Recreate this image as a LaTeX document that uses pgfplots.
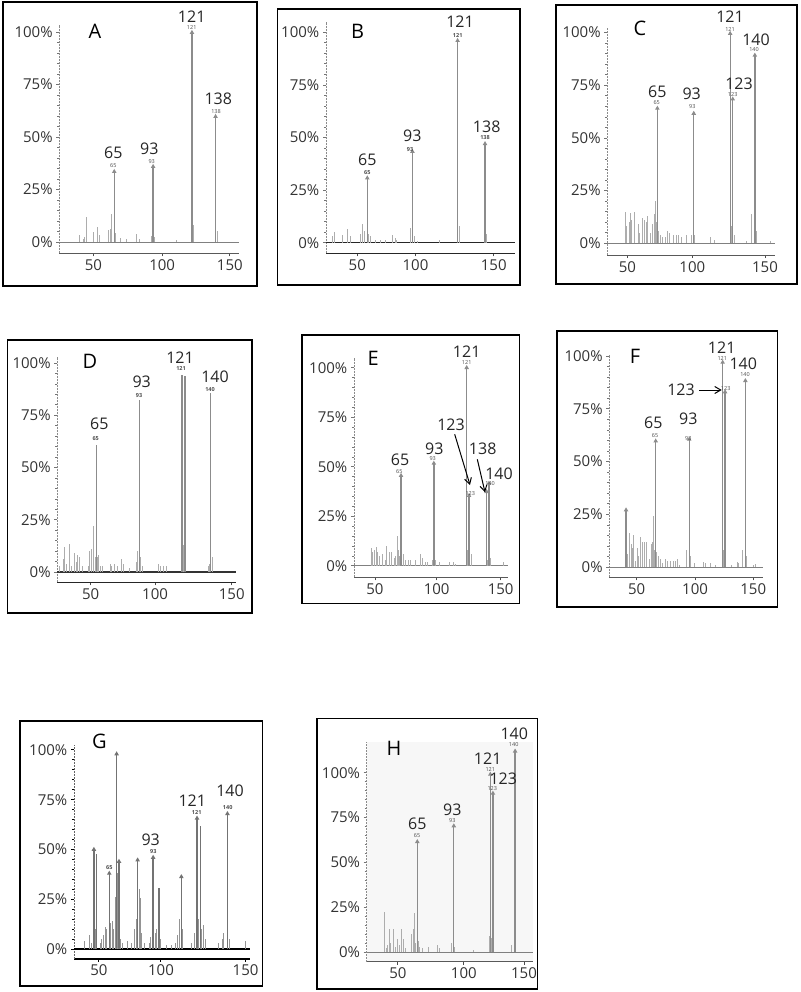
\documentclass[border=0pt]{standalone}
\usepackage{fontspec}
\setmainfont{Open Sans}
\usepackage{pgfplots}
\pgfplotsset{compat=1.18}
\usetikzlibrary{arrows.meta}

\newcommand\tickfont{\fontsize{15}{17}\selectfont}
\newcommand\labfont{\fontsize{16}{18}\selectfont}
\newcommand\letfont{\fontsize{20}{24}\selectfont}
\newcommand\smfont{\fontsize{5.5}{6}\selectfont}
% labels placed in picture pixels (1px = 1pt, y downwards)
\newcommand\lab[3]{\node[font=\labfont,text=black!85,inner sep=0pt] at (#1pt,-#2pt) {#3};}
\newcommand\sml[3]{\node[font=\smfont,text=black!70,inner sep=0pt] at (#1pt,-#2pt) {#3};}
\newcommand\plet[3]{\node[font=\letfont,inner sep=0pt] at (#1pt,-#2pt) {#3};}
\newcommand\panelbox[4]{\draw[line width=1.6pt] (#1pt,-#2pt) rectangle (#3pt,-#4pt);}

\pgfplotsset{
  ms/.style={
    scale only axis, anchor=south west, clip=false,
    axis x line*=bottom, axis y line*=left,
    tick align=outside, xtick pos=bottom, ytick pos=left,
    xmajorticks=true, xminorticks=true,
    major tick length=3pt, minor tick length=2pt,
    minor x tick num=9, minor y tick num=4,
    xticklabels={50,100,150},
    ytick={0,25,50,75,100}, yticklabels={0\%,25\%,50\%,75\%,100\%},
    ticklabel style={font=\tickfont, text=black!80},
    xticklabel style={inner sep=3pt},
    yticklabel style={inner sep=3.5pt},
    x axis line style={black!65, line width=1pt},
    y axis line style={black!45, line width=0.8pt, dash pattern=on 2pt off 1pt},
    tick style={black!55, line width=0.6pt},
    x tick style={black!70, line width=0.8pt},
  },
  minor/.style={ycomb, color=black!32, line width=1pt, mark=none},
  major/.style={ycomb, color=black!45, line width=1.3pt, mark=triangle*, mark size=1.4pt},
  base/.style={black!50, line width=0.8pt, mark=none},
}

\begin{document}
\begin{tikzpicture}
\useasboundingbox (0,0) rectangle (800pt,-992pt);

% ---------------- A
\begin{axis}[ms, at={(59.3pt,-253.3pt)}, width=179.7pt, height=228.3pt,
  xmin=25.4, xmax=154.9, ymin=-5.38, ymax=103.3, xtick={50,99.5,148.3}]
\addplot[base] coordinates {(25.4,0) (154.9,0)};
\addplot[minor] coordinates {(39.8,3.3) (42.5,1.5) (43.4,2.5) (44.9,11.7) (49.7,4.9) (52.6,7.3) (54.4,3.3) (60.9,5.5) (62.1,6) (62.8,13.2) (65.7,4.2) (69.3,2) (73.6,1.5) (80.8,4) (83.2,1.2) (92.1,3) (93.8,2.5) (109.6,1) (122,8) (139.3,5)};
\addplot[major] coordinates {(65,33.5) (93,35.9) (121,99.7) (138,59.7)};
\end{axis}
\panelbox{3}{2}{257}{286}
\plet{95}{31}{A}
\lab{113.3}{152.7}{65} \lab{149.3}{149}{93} \lab{191.7}{16.7}{121} \lab{218.3}{99}{138}
\sml{113.3}{165.7}{65} \sml{151.7}{162}{93} \sml{191.7}{28}{121} \sml{216}{112}{138}

% ---------------- B
\begin{axis}[ms, at={(326pt,-253.3pt)}, width=189pt, height=231.6pt,
  xmin=39.4, xmax=156.6, ymin=-5.04, ymax=105, xtick={58.8,94.9,143.4},
  x axis line style={black!85, line width=1pt}]
\addplot[black!85, line width=1.4pt] coordinates {(39.4,0) (156.6,0)};
\addplot[minor] coordinates {(43.5,3) (44.5,5.2) (49.8,3.5) (52.8,6.3) (54.5,3) (60.5,4) (62.1,8.9) (63.1,5.5) (65.6,4) (66.7,3) (69.8,1.5) (72.9,1.5) (76,1.5) (80.7,3.7) (82.2,2) (83.2,1.5) (92.1,6.8) (94.2,3) (96.3,1) (110,1.5) (121.9,8) (139.1,4)};
\addplot[major] coordinates {(65,30.7) (93,43.3) (121,96) (138,47)};
\end{axis}
\panelbox{277.3}{9.3}{520}{285}
\plet{357.7}{31.7}{B}
\lab{367.3}{160}{65} \lab{412.3}{136}{93} \lab{460}{21.7}{121} \lab{486.7}{126.7}{138}
\sml{367.3}{172.3}{\textbf{65}} \sml{410}{150}{\textbf{93}} \sml{457.7}{36}{\textbf{121}} \sml{485}{137.7}{\textbf{138}}

% ---------------- C
\begin{axis}[ms, at={(607.3pt,-255pt)}, width=167.7pt, height=226.7pt,
  xmin=26.5, xmax=155.5, ymin=-5.55, ymax=102, xtick={41.9,91.9,147.8}]
\addplot[base] coordinates {(26.5,0) (155.5,0)};
\addplot[minor] coordinates {(40.2,15) (41.5,8) (43.5,10) (44.5,14.5) (45.3,11) (47.1,15) (50.4,9) (51.2,5) (53.5,12) (55,11) (56.8,10) (57.6,13) (59.4,5) (61.5,9) (62.5,14) (63.5,20) (64.5,10) (65.8,6) (67.1,4) (69.2,3) (70.9,3) (73,6) (74,5) (77.3,4) (79.4,4) (81.2,4) (83.2,3) (87.1,4) (91.5,4) (93.5,4) (105.5,3) (108.6,1.5) (122.2,8) (124,4) (133.2,1) (137.6,14) (140.9,6) (152.2,1)};
\addplot[major] coordinates {(65,64) (93,61.6) (121,99.5) (123,68.4) (140,89.2)};
\end{axis}
\panelbox{556}{5}{797}{284}
\plet{640}{28.3}{C}
\lab{657.3}{91.7}{65} \lab{691.7}{93.3}{93} \lab{730}{16.7}{121} \lab{739}{84}{123} \lab{756}{39.3}{140}
\sml{656.7}{102.7}{65} \sml{692.3}{106.7}{93} \sml{730}{30}{121} \sml{732.7}{94.7}{123} \sml{754}{50}{140}

% ---------------- D
\begin{axis}[ms, at={(57.3pt,-582.3pt)}, width=178.7pt, height=225.6pt,
  xmin=39.1, xmax=156.6, ymin=-4.93, ymax=103, xtick={61,103.4,153.8},
  x axis line style={black!85, line width=1pt}]
\addplot[black!80, line width=1.2pt] coordinates {(39.1,0) (156.6,0)};
\addplot[minor] coordinates {(40.4,3) (43,6) (44.1,12) (45.3,4) (47,13.5) (48.6,3) (50.1,9) (51.4,5) (52.5,8) (54,7) (55.8,3) (59.5,3) (60.6,10) (61.7,11) (62.8,22) (63.9,7) (65.4,7) (66.1,8) (67.2,3) (68.9,3) (73.8,4) (74.9,3) (77,4) (78.6,3) (81,6) (82.5,4) (86.9,2) (91.3,5) (92,10) (93.9,7) (95.3,3) (105.5,4) (107.1,3) (108.8,3) (110.6,3) (122,13) (123.7,8) (138.4,3) (139.5,4) (141,7)};
\addplot[major, mark=none] coordinates {(65,60.8) (93,82.3) (121,94.3) (123,94) (140,85.5)};
\end{axis}
\panelbox{7.3}{340}{251.7}{613}
\plet{90}{361.7}{D}
\lab{99.3}{423.3}{65} \lab{141.7}{381.7}{93} \lab{180}{357.3}{121} \lab{215}{376.7}{140}
\sml{95.7}{439}{\textbf{65}} \sml{139}{395.7}{\textbf{93}} \sml{181}{368.3}{\textbf{121}} \sml{210}{389.3}{\textbf{140}}

% ---------------- E
\begin{axis}[ms, at={(354pt,-577.3pt)}, width=154.3pt, height=219.3pt,
  xmin=24.9, xmax=156.5, ymin=-5.86, ymax=104.9, xtick={42.8,95.4,150}]
\addplot[base] coordinates {(24.9,0) (156.5,0)};
\addplot[minor] coordinates {(39.4,9) (40.9,7) (42.2,8) (43.7,9.5) (44.8,7) (46.5,5) (49.4,6) (51.4,3) (52.8,10) (54.8,7) (56.5,7) (59.3,4) (60.7,5) (62.2,15) (63,8) (64.1,5) (67,6) (69,3) (71.2,3) (73.3,3) (77.2,3) (81.2,6) (82.9,4) (85.5,2) (87.4,2) (92,3) (94.6,3) (97.7,2) (106.2,2) (109.6,2) (111.6,1) (122,8) (124.7,6) (139.1,3) (141.7,4) (152.8,2)};
\addplot[major] coordinates {(65,45.5) (93,51.7) (121,100) (123,35.4) (138,37.4) (140,41.6)};
\end{axis}
\panelbox{301.7}{334.7}{519.3}{603.3}
\plet{373.3}{358.3}{E}
\lab{400}{460}{65} \lab{434.3}{448.3}{93} \lab{466.7}{351.7}{121} \lab{451}{424.3}{123} \lab{482.7}{448.3}{138} \lab{499}{473.3}{140}
\sml{399.3}{471.7}{65} \sml{432.7}{459}{93} \sml{466.7}{362.7}{121} \sml{470.3}{493.3}{123} \sml{490}{483.3}{140}
\draw[-{Straight Barb[length=6pt,width=7pt]}, line width=1pt] (454.7pt,-434.3pt) -- (470pt,-485pt);
\draw[-{Straight Barb[length=6pt,width=7pt]}, line width=1pt] (477.3pt,-459.3pt) -- (485pt,-492.3pt);

% ---------------- F
\begin{axis}[ms, at={(609.3pt,-577.3pt)}, width=153.4pt, height=222.3pt,
  xmin=26.2, xmax=154.5, ymin=-4.88, ymax=100.5, xtick={49.1,97.9,146.6}]
\addplot[base] coordinates {(26.2,0) (154.5,0)};
\addplot[minor] coordinates {(41.2,6) (42.7,10) (43.5,16) (44.4,11) (45.2,9) (46.3,15) (47.7,3) (49.6,9) (51,5) (52.7,14) (54.1,12) (55.5,12) (56.9,12) (60.2,4) (61.6,11) (62.5,12) (63.3,24) (64.2,8) (65.8,7) (67.5,5) (69.4,4) (70.9,2) (73.4,4) (75,3) (77,3) (79.7,3) (81.7,3) (83.1,4) (85.3,1) (91,8) (93.8,5) (97.3,2) (104.8,2.5) (106.8,2) (111,2) (114.6,1) (121.8,8) (123.6,3) (128.5,1) (133.2,2.5) (134.6,2) (137.4,8) (140.6,5) (146.6,1) (148.6,1.5)};
\addplot[major] coordinates {(40.2,27) (65,59.7) (93,60.5) (121,97) (123,83) (140,88.3)};
\end{axis}
\panelbox{556.7}{331}{777.3}{606.7}
\plet{635}{356.7}{F}
\lab{653.3}{422.7}{65} \lab{688.3}{418.3}{93} \lab{721.7}{347.3}{121} \lab{743.3}{363.3}{140} \lab{681}{390}{123}
\sml{655}{436}{65} \sml{688.3}{439}{93} \sml{722.3}{359}{121} \sml{725.7}{389}{123} \sml{745}{374.3}{140}
\draw[-{Straight Barb[length=6pt,width=7pt]}, line width=1pt] (699.3pt,-390pt) -- (721.7pt,-390pt);

% ---------------- G
\begin{axis}[ms, at={(74pt,-958.7pt)}, width=176pt, height=213.7pt,
  xmin=42.5, xmax=154.8, ymin=-4.87, ymax=102.5, xtick={58.4,98,152},
  x axis line style={black, line width=2pt}, tick style={black, line width=1pt},
  x tick style={black, line width=1pt},
  y axis line style={black!60, line width=0.8pt, dash pattern=on 2pt off 1pt}]
\addplot[black, line width=2pt] coordinates {(42.5,0) (154.8,0)};
\addplot[minor, color=black!42] coordinates {(49.5,4) (52.3,7) (53.8,3) (56.3,10) (59.1,3) (60.2,5) (61.2,7) (62.3,11) (63.3,10) (66.1,13) (66.9,14) (68,10) (68.9,26) (70.4,38) (72.3,5) (73.6,3) (76.7,4) (78.9,3) (81.4,10) (82.1,15) (84,30) (84.8,25.5) (85.7,8) (87.8,3) (90.5,3) (91.6,6) (94.2,8) (95.3,10) (97.8,5) (101.6,2) (104.8,2) (107,3) (108.4,7) (109.5,12) (110.1,15) (111.9,10) (117.6,3) (119.7,8) (121.8,15) (124,10) (125,12) (126.1,5) (134.6,3) (137.2,5) (138.2,8) (141.4,5) (151.7,4)};
\addplot[major, color=black!55, mark=none] coordinates {(57,47.7) (96.7,30.5) (123.1,62)};
\addplot[major, color=black!55] coordinates {(55.2,50) (65,38) (69.7,98) (71.2,44) (83.1,44.7) (93,46) (111,36.3) (121,65.7) (140.4,68)};
\end{axis}
\panelbox{20}{721}{262.5}{986}
\plet{99.3}{741.5}{G}
\lab{150.7}{839.3}{93} \lab{192.3}{800.7}{121} \lab{230}{791}{140}
\sml{109.3}{867.3}{\textbf{65}} \sml{153.3}{851.7}{\textbf{93}} \sml{196.7}{812.3}{\textbf{121}} \sml{227.7}{807.3}{\textbf{140}}

% ---------------- H
\begin{axis}[ms, at={(366.7pt,-961.7pt)}, width=166pt, height=220pt,
  xmin=26.2, xmax=153.5, ymin=-5.41, ymax=117.3, xtick={50.1,100.7,146.8},
  axis background/.style={fill=black!3}]
\addplot[base] coordinates {(26.2,0) (153.5,0)};
\addplot[minor] coordinates {(39.7,22.5) (41,2) (42.3,4) (43.5,12.6) (44.6,5) (46.6,13) (48.1,3) (50,7) (51.2,4) (52.5,13) (54.3,7) (56.1,2) (60.7,10) (61.9,13) (62.7,22) (63.5,5) (65.8,6) (66.5,3) (68.8,2) (73.4,3) (80.3,4) (82.4,2) (91.4,5) (93.9,3) (108,1) (120.2,9) (122,8) (123.3,7) (136.9,4) (139.9,8)};
\addplot[major] coordinates {(65,61.5) (93,70.3) (121,99.1) (123,88.5) (140,112)};
\end{axis}
\panelbox{316.7}{718.3}{537.3}{989}
\plet{394}{748.3}{H}
\lab{417.3}{823.3}{65} \lab{452.3}{809.3}{93} \lab{487.7}{758.3}{121} \lab{503.3}{779}{123} \lab{514.3}{733.3}{140}
\sml{417}{835.7}{65} \sml{452.3}{821}{93} \sml{490.3}{769}{121} \sml{492.3}{789}{123} \sml{513.7}{745}{140}
\end{tikzpicture}
\end{document}
